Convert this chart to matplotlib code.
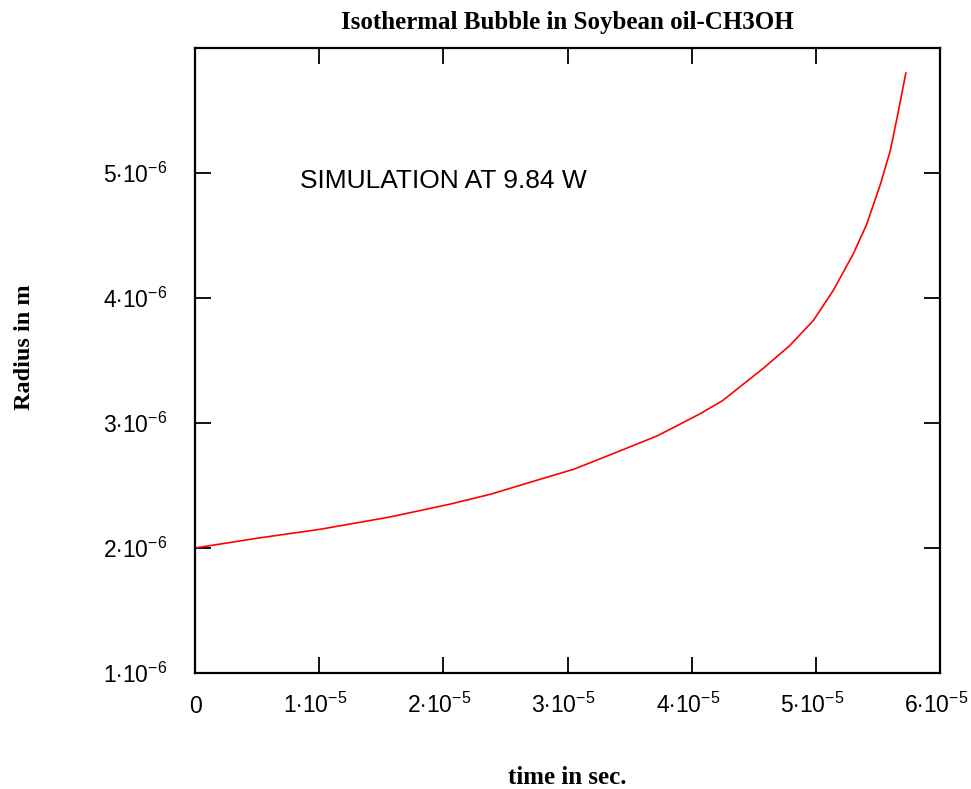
import matplotlib
matplotlib.use("Agg")
import matplotlib.pyplot as plt
from matplotlib.ticker import FixedLocator, FixedFormatter
from matplotlib.transforms import ScaledTranslation

# Bubble radius history (time in s, radius in m)
time_s = [0.0, 0.50e-5, 1.01e-5, 1.57e-5, 2.05e-5, 2.38e-5, 2.78e-5, 3.05e-5,
          3.32e-5, 3.72e-5, 3.905e-5, 4.07e-5, 4.25e-5, 4.58e-5, 4.79e-5,
          4.98e-5, 5.14e-5, 5.30e-5, 5.41e-5, 5.52e-5, 5.60e-5, 5.66e-5, 5.725e-5]
radius_m = [2.000e-6, 2.078e-6, 2.150e-6, 2.248e-6, 2.350e-6, 2.430e-6, 2.550e-6, 2.630e-6,
            2.736e-6, 2.896e-6, 2.990e-6, 3.075e-6, 3.180e-6, 3.440e-6, 3.620e-6,
            3.820e-6, 4.060e-6, 4.350e-6, 4.590e-6, 4.910e-6, 5.180e-6, 5.470e-6, 5.800e-6]

x_ticks = [0, 1e-5, 2e-5, 3e-5, 4e-5, 5e-5, 6e-5]
x_labels = ["0", r"$1{\cdot}10^{-5}$", r"$2{\cdot}10^{-5}$", r"$3{\cdot}10^{-5}$",
            r"$4{\cdot}10^{-5}$", r"$5{\cdot}10^{-5}$", r"$6{\cdot}10^{-5}$"]
y_ticks = [1e-6, 2e-6, 3e-6, 4e-6, 5e-6]
y_labels = [r"$1{\cdot}10^{-6}$", r"$2{\cdot}10^{-6}$", r"$3{\cdot}10^{-6}$",
            r"$4{\cdot}10^{-6}$", r"$5{\cdot}10^{-6}$"]

title = "Isothermal Bubble in Soybean oil-CH3OH"
x_title = "time in sec."
y_title = "Radius in m"
note = "SIMULATION AT 9.84 W"

plt.rcParams["font.family"] = "Liberation Sans"
plt.rcParams["mathtext.fontset"] = "custom"
plt.rcParams["mathtext.rm"] = "Liberation Sans"
plt.rcParams["mathtext.it"] = "Liberation Sans"
plt.rcParams["mathtext.bf"] = "Liberation Sans:bold"

fig = plt.figure(figsize=(9.71, 7.89), dpi=100)
ax = fig.add_axes([195 / 971, 1 - 673 / 789, (940 - 195) / 971, (673 - 48) / 789])

ax.plot(time_s, radius_m, color="#ff0000", linewidth=1.2)

ax.set_xlim(0, 6e-5)
ax.set_ylim(1e-6, 6e-6)

ax.xaxis.set_major_locator(FixedLocator(x_ticks))
ax.xaxis.set_major_formatter(FixedFormatter(x_labels))
ax.yaxis.set_major_locator(FixedLocator(y_ticks))
ax.yaxis.set_major_formatter(FixedFormatter(y_labels))

ax.tick_params(direction="in", length=11.5, width=1.3, top=True, right=True,
               labelsize=16.5, colors="black")
ax.tick_params(axis="x", pad=28.5)
ax.tick_params(axis="y", pad=20)
for s in ax.spines.values():
    s.set_linewidth(1.6)
    s.set_color("black")

# bottom labels share one baseline; the power-of-ten ones sit slightly left of their ticks
shift = ScaledTranslation(-4 / 100, 0, fig.dpi_scale_trans)
for i, lbl in enumerate(ax.get_xticklabels()):
    lbl.set_verticalalignment("baseline")
    if i > 0:
        lbl.set_transform(lbl.get_transform() + shift)

serif_bold = dict(family="Liberation Serif", fontweight="bold")
fig.text(567 / 971, 1 - 22 / 789, title, ha="center", va="center", fontsize=18, **serif_bold)
fig.text(567 / 971, 1 - 777 / 789, x_title, ha="center", va="center", fontsize=18, **serif_bold)
fig.text(24 / 971, 1 - 347 / 789, y_title, ha="center", va="center", rotation=90,
         fontsize=17.5, **serif_bold)

ax.text(0.846e-5, 4.94e-6, note, ha="left", va="center", fontsize=19,
        family="Liberation Sans")

fig.savefig("out.png", dpi=100)
